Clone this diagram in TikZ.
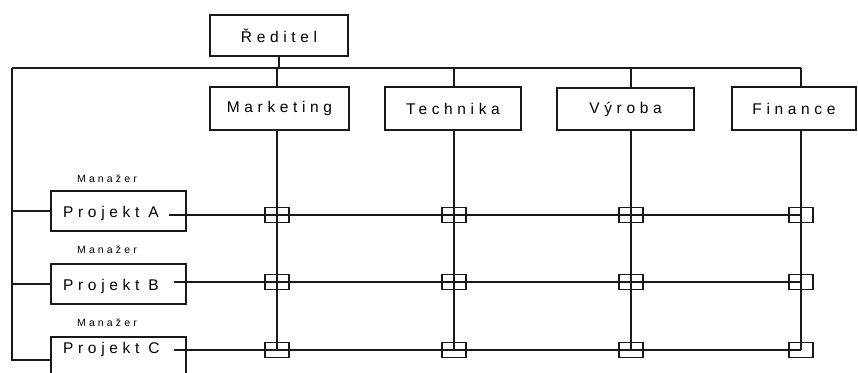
\documentclass[tikz,border=0pt]{standalone}
\usepackage{fontspec}
\setmainfont{Liberation Sans}[LetterSpace=30]
\begin{document}
\begin{tikzpicture}[x=1pt,y=-1pt]
\tikzset{
  wire/.style={draw=black!90, line width=1.3pt},
  unit/.style={draw=black!90, line width=1.3pt, rectangle, inner sep=0pt,
    font=\fontsize{15.5}{18}\selectfont},
  junction/.style={draw=black!90, line width=1.3pt, rectangle,
    minimum width=24pt, minimum height=15pt, inner sep=0pt},
  manager/.style={font=\fontsize{10.5}{12}\selectfont, inner sep=0pt, anchor=base},
  ptext/.style={font=\fontsize{15.5}{18}\selectfont, inner sep=0pt, anchor=base west}
}
\clip (0,0) rectangle (858,372);

% director and departments
\node[unit, minimum width=138pt, minimum height=41pt] (red)  at (279,35.5)   {Ředitel};
\node[unit, minimum width=139pt, minimum height=43pt] (mkt)  at (279.5,108.5) {Marketing};
\node[unit, minimum width=136pt, minimum height=43pt] (tech) at (453,108.5)  {Technika};
\node[unit, minimum width=137pt, minimum height=42pt] (vyr)  at (625.5,109)  {Výroba};
\node[unit, minimum width=124pt, minimum height=43pt] (fin)  at (794,108.5)  {Finance};

% projects
\node[unit, minimum width=135pt, minimum height=40pt] (pA) at (118.5,211) {};
\node[unit, minimum width=135pt, minimum height=40pt] (pB) at (118.5,284) {};
\node[unit, minimum width=135pt, minimum height=46pt] (pC) at (118.5,360) {};
\node[ptext] (tA) at (63,217) {Projekt A};
\node[ptext] (tB) at (63,290) {Projekt B};
\node[ptext] (tC) at (63,353) {Projekt C};
\node[manager] (mA) at (107,182) {Manažer};
\node[manager] (mB) at (107,253) {Manažer};
\node[manager] (mC) at (107,326) {Manažer};

% matrix junctions (rows = projects, columns = departments)
\foreach \r/\y in {A/215,B/282,C/350}{
  \node[junction] (j\r1) at (277,\y) {};
  \node[junction] (j\r2) at (454,\y) {};
  \node[junction] (j\r3) at (631,\y) {};
  \node[junction] (j\r4) at (801,\y) {};
}

% top bus
\coordinate (busL) at (12,68);
\draw[wire] (busL) -- (busL -| jA4.center);
\draw[wire] (red.south) -- (red.south |- busL);
\draw[wire] (busL -| jA1.center) -- (mkt.north -| jA1.center);
\draw[wire] (busL -| jA2.center) -- (tech.north -| jA2.center);
\draw[wire] (busL -| jA3.center) -- (vyr.north -| jA3.center);
\draw[wire] (busL -| jA4.center) -- (fin.north -| jA4.center);

% left bus to the projects
\draw[wire] (busL) |- (pC.west);
\draw[wire] (pA.west) -- (pA.west -| busL);
\draw[wire] (pB.west) -- (pB.west -| busL);

% department columns
\draw[wire] (mkt.south -| jA1.center) -- (jC1.center);
\draw[wire] (tech.south -| jA2.center) -- (jC2.center);
\draw[wire] (vyr.south -| jA3.center) -- (jC3.center);
\draw[wire] (fin.south -| jA4.center) -- (jC4.center);

% project rows
\draw[wire] ([xshift=-18pt]pA.east |- jA1.center) -- (jA4.center);
\draw[wire] ([xshift=-13pt]pB.east |- jB1.center) -- (jB4.center);
\draw[wire] ([xshift=-13pt]pC.east |- jC1.center) -- (jC4.center);
\end{tikzpicture}
\end{document}
